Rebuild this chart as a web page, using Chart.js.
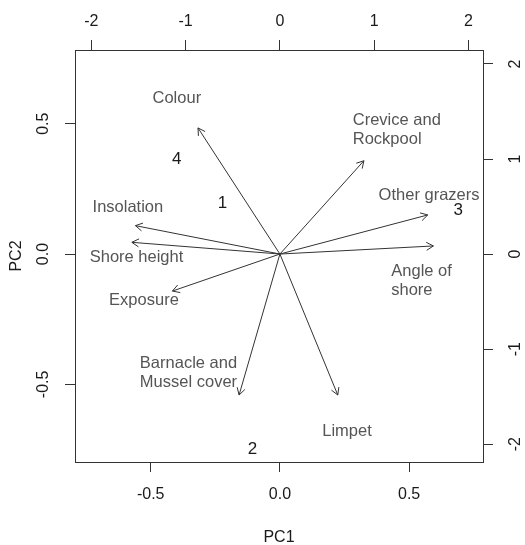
<!DOCTYPE html>
<html>
<head>
<meta charset="utf-8">
<script src="https://cdn.jsdelivr.net/npm/chart.js@4.4.1/dist/chart.umd.min.js"></script>
<style>
  html, body { margin: 0; padding: 0; background: #fff; }
  #wrap { width: 525px; height: 545px; }
</style>
</head>
<body>
<div id="wrap"><canvas id="biplot" width="525" height="545"></canvas></div>
<script>
// --- DATA ---
const varNames = ['Colour', 'Crevice and Rockpool', 'Other grazers', 'Angle of shore', 'Limpet',
                  'Barnacle and Mussel cover', 'Exposure', 'Shore height', 'Insolation'];
const loadPC1 = [-0.317, 0.325, 0.572, 0.594, 0.224, -0.158, -0.416, -0.573, -0.559];
const loadPC2 = [0.484, 0.358, 0.150, 0.031, -0.541, -0.541, -0.142, 0.045, 0.109];

const siteNames = ['1', '2', '3', '4'];
const scorePC1 = [-0.608, -0.29, 1.891, -1.095];
const scorePC2 = [0.534, -2.05, 0.456, 0.997];

const pcTicks = [-0.5, 0, 0.5];
const scoreTicks = [-2, -1, 0, 1, 2];

// label layout (left edge / first line centre, in loading units) - only for placing the text
const labelLines = [['Colour'], ['Crevice and', 'Rockpool'], ['Other grazers'], ['Angle of', 'shore'], ['Limpet'],
                    ['Barnacle and', 'Mussel cover'], ['Exposure'], ['Shore height'], ['Insolation']];
const labelX = [-0.493, 0.282, 0.382, 0.431, 0.164, -0.542, -0.661, -0.736, -0.725];
const labelY = [0.597, 0.514, 0.224, -0.065, -0.682, -0.419, -0.179, -0.014, 0.178];

const FONT = 'Liberation Sans, Arial, sans-serif';
const INK = '#333';

// eine Linie pro Variable, vom Ursprung bis zur Ladung
const arrowSets = varNames.map((name, i) => ({
    label: name,
    data: [{ x: 0, y: 0 }, { x: loadPC1[i], y: loadPC2[i] }],
    showLine: true,
    borderColor: INK,
    borderWidth: 1,
    pointRadius: 0,
    xAxisID: 'x',
    yAxisID: 'y'
}));

const siteSet = {
    label: 'sites',
    data: siteNames.map((s, i) => ({ x: scorePC1[i], y: scorePC2[i] })),
    pointRadius: 0,
    xAxisID: 'x2',
    yAxisID: 'y2'
};

// pfeilspitzen, texte, gedrehte y-ticks
const biplotText = {
    id: 'biplotText',
    afterDatasetsDraw(chart) {
        const ctx = chart.ctx;
        const sx = chart.scales.x, sy = chart.scales.y;
        ctx.save();

        // arrow heads
        ctx.strokeStyle = INK;
        ctx.lineWidth = 1;
        varNames.forEach((n, i) => {
            const pts = chart.getDatasetMeta(i).data;
            const x0 = pts[0].x, y0 = pts[0].y, x1 = pts[1].x, y1 = pts[1].y;
            const a = Math.atan2(y1 - y0, x1 - x0);
            const len = 8, spread = Math.PI / 6;
            ctx.beginPath();
            ctx.moveTo(x1 - len * Math.cos(a - spread), y1 - len * Math.sin(a - spread));
            ctx.lineTo(x1, y1);
            ctx.lineTo(x1 - len * Math.cos(a + spread), y1 - len * Math.sin(a + spread));
            ctx.stroke();
        });

        // variable names
        ctx.font = '16.5px ' + FONT;
        ctx.fillStyle = '#555';
        ctx.textAlign = 'left';
        ctx.textBaseline = 'middle';
        labelLines.forEach((lines, i) => {
            const px = sx.getPixelForValue(labelX[i]);
            const py = sy.getPixelForValue(labelY[i]);
            lines.forEach((t, k) => ctx.fillText(t, px, py + k * 19.3));
        });

        // site numbers
        ctx.font = '17px ' + FONT;
        ctx.fillStyle = '#1a1a1a';
        ctx.textAlign = 'center';
        const sitePts = chart.getDatasetMeta(varNames.length).data;
        sitePts.forEach((p, i) => ctx.fillText(siteNames[i], p.x, p.y));

        // rotated tick labels on the vertical axes
        ctx.font = '16px ' + FONT;
        const rot = (scale, xc, fmt) => {
            scale.ticks.forEach(t => {
                ctx.save();
                ctx.translate(xc, scale.getPixelForValue(t.value));
                ctx.rotate(-Math.PI / 2);
                ctx.fillText(fmt(t.value), 0, 0);
                ctx.restore();
            });
        };
        rot(chart.scales.y, 44, v => v.toFixed(1));
        rot(chart.scales.y2, 516, v => String(v));

        ctx.restore();
    }
};

const tickGrid = { drawOnChartArea: false, drawTicks: true, tickLength: 10, color: INK, lineWidth: 1 };
const axisBorder = { display: true, color: INK, width: 1 };

new Chart(document.getElementById('biplot'), {
    type: 'scatter',
    data: { datasets: [...arrowSets, siteSet] },
    plugins: [biplotText],
    options: {
        responsive: false,
        animation: false,
        layout: { padding: 0 },
        plugins: { legend: { display: false }, tooltip: { enabled: false } },
        scales: {
            x: {
                type: 'linear', position: 'bottom', min: -0.793, max: 0.786,
                afterBuildTicks: s => { s.ticks = pcTicks.map(v => ({ value: v })); },
                afterFit: s => { s.height = 83; },
                grid: tickGrid, border: axisBorder,
                ticks: { autoSkip: false, maxRotation: 0, padding: 13, color: '#1a1a1a',
                         font: { family: FONT, size: 16 }, callback: v => v.toFixed(1) },
                title: { display: true, text: 'PC1', color: '#1a1a1a', padding: { top: 0, bottom: 0 },
                         font: { family: FONT, size: 16, lineHeight: 0.9 } }
            },
            y: {
                type: 'linear', position: 'left', min: -0.798, max: 0.783,
                afterBuildTicks: s => { s.ticks = pcTicks.map(v => ({ value: v })); },
                afterFit: s => { s.width = 75; },
                grid: tickGrid, border: axisBorder,
                ticks: { display: false },
                title: { display: true, text: 'PC2', color: '#1a1a1a', padding: { top: 7, bottom: 0 },
                         font: { family: FONT, size: 16 } }
            },
            x2: {
                type: 'linear', position: 'top', min: -2.174, max: 2.155,
                afterBuildTicks: s => { s.ticks = scoreTicks.map(v => ({ value: v })); },
                afterFit: s => { s.height = 50; },
                grid: tickGrid, border: axisBorder,
                ticks: { autoSkip: false, maxRotation: 0, padding: 9, color: '#1a1a1a',
                         font: { family: FONT, size: 16 }, callback: v => String(v) }
            },
            y2: {
                type: 'linear', position: 'right', min: -2.188, max: 2.147,
                afterBuildTicks: s => { s.ticks = scoreTicks.map(v => ({ value: v })); },
                afterFit: s => { s.width = 42; },
                grid: tickGrid, border: axisBorder,
                ticks: { display: false }
            }
        }
    }
});
</script>
</body>
</html>
